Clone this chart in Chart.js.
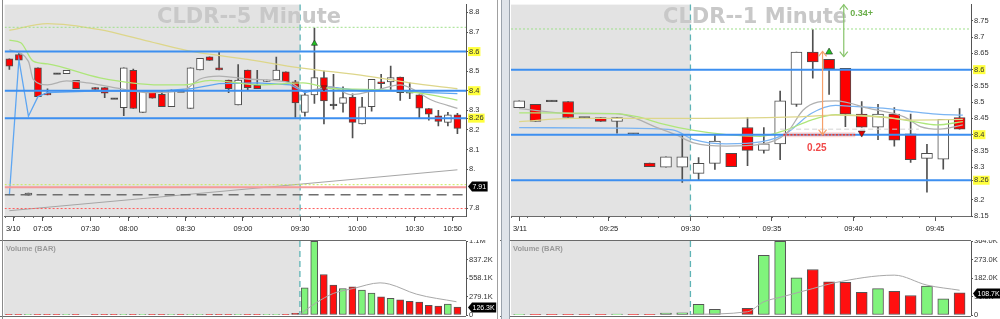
<!DOCTYPE html>
<html>
<head>
<meta charset="utf-8">
<script src="https://cdn.jsdelivr.net/npm/chart.js@4.4.1/dist/chart.umd.min.js"></script>
<style>
  html, body { margin:0; padding:0; background:#ffffff; }
  #wrap { position:relative; width:1000px; height:319px; overflow:hidden; background:#fff; }
  #wrap canvas { position:absolute; }
  .rule { position:absolute; }
</style>
</head>
<body>
<div id="wrap">
  <canvas id="lPrice" width="497" height="241" style="left:0;top:0"></canvas>
  <canvas id="lVol" width="497" height="79" style="left:0;top:240px"></canvas>
  <canvas id="rPrice" width="500" height="241" style="left:500px;top:0"></canvas>
  <canvas id="rVol" width="500" height="79" style="left:500px;top:240px"></canvas>
  <div class="rule" style="left:2px;top:0;width:1px;height:319px;background:#8a8a8a"></div>
  <div class="rule" style="left:497px;top:0;width:1px;height:319px;background:#a0a0a0"></div>
  <div class="rule" style="left:501px;top:0;width:7px;height:319px;background:#dfe4ea;border-left:1px solid #9aa3ad;border-right:1px solid #9aa3ad"></div>
</div>
<script>
// ================= LEFT PANEL : CLDR 5 minute =================
const leftTitle = 'CLDR--5 Minute';
const leftOpen  = [8.563,8.585,7.866,8.517,8.387,8.487,8.487,8.453,null,8.416,8.416,8.36,8.314,8.504,8.289,8.396,8.382,8.318,8.395,8.309,8.506,8.573,8.517,8.455,8.328,8.506,8.428,8.448,8.455,8.497,8.445,8.289,8.379,8.467,8.328,8.335,8.368,8.23,8.318,8.446,8.445,8.47,8.392,8.379,8.309,8.272,8.238,8.277];
const leftHigh  = [8.563,8.59,7.877,8.517,8.41,8.487,8.504,8.453,null,8.416,8.416,8.36,8.517,8.51,8.402,8.396,8.40,8.405,8.395,8.517,8.565,8.573,8.597,8.455,8.534,8.506,8.504,8.455,8.572,8.497,8.453,8.40,8.72,8.50,8.484,8.42,8.384,8.366,8.458,8.484,8.526,8.47,8.44,8.379,8.309,8.30,8.29,8.285];
const leftLow   = [8.509,8.556,7.866,8.369,8.379,8.487,8.487,8.411,null,8.407,8.365,8.36,8.272,8.309,8.289,8.362,8.318,8.318,8.395,8.309,8.506,8.555,8.506,8.39,8.328,8.405,8.411,8.448,8.455,8.446,8.264,8.27,8.335,8.23,8.306,8.29,8.159,8.23,8.295,8.41,8.405,8.35,8.36,8.26,8.25,8.22,8.22,8.18];
const leftClose = [8.526,8.556,7.877,8.369,8.379,8.487,8.504,8.411,null,8.407,8.387,8.36,8.517,8.309,8.402,8.362,8.318,8.402,8.395,8.517,8.565,8.555,8.506,8.411,8.455,8.416,8.411,8.455,8.506,8.446,8.338,8.379,8.467,8.348,8.328,8.365,8.238,8.318,8.458,8.436,8.467,8.39,8.392,8.311,8.28,8.243,8.277,8.208];
const leftVolumeK = [4,3,2,5,3,2,3,4,null,3,2,2,6,5,3,2,3,2,2,5,3,2,2,3,4,3,2,2,3,4,25,410,1110,611,450,400,425,375,330,275,250,230,205,195,145,135,165,120];
const leftVolumeAvgK = [[30.5,10],[32.1,175],[34,325],[36.1,400],[38.9,485],[39.9,465],[42.7,315],[46.9,200]];
const leftTimeTickPos = [0.4,3.5,8.5,12.5,18.5,24.5,30.5,36.5,42.5,46.5];
const leftTimeLabels  = ['3/10','07:05','07:30','08:00','08:30','09:00','09:30','10:00','10:30','10:50'];
const leftPriceTicks  = [8.8,8.7,8.6,8.5,8.4,8.3,8.26,8.2,8.1,8.0,7.8];
const leftPriceTickLabels = ['8.8','8.7','8.6','8.5','8.4','8.3','8.26','8.2','8.1','8.','7.8'];
const leftVolTicks = [0,279.1,558.1,837.2,1116.3];
const leftVolTickLabels = ['0','279.1K','558.1K','837.2K','1.1M'];
const leftLevels = [8.6,8.4,8.26];
const leftHighAlert = 8.724;
const leftLowAlert = 7.92;
const leftPrevClose = 7.907;
const leftDashedRef = 7.869;
const leftRedDotted = 7.798;
const leftSessionStart = 30.5;
const leftMaYellow = [[0,8.709],[4,8.743],[9.5,8.712],[14,8.66],[18.7,8.605],[25,8.56],[30.5,8.517],[37.5,8.475],[42,8.44],[47,8.41]];
const leftMaGreen  = [[0,8.658],[1.2,8.645],[2.5,8.551],[4,8.537],[9.5,8.466],[15.8,8.43],[18.3,8.43],[21.1,8.453],[26.3,8.43],[30.8,8.44],[34,8.41],[37.5,8.407],[42.7,8.39],[47,8.352]];
const leftMaGray   = [[0,8.61],[2,8.55],[2.5,8.458],[4,8.43],[6,8.45],[8.2,8.44],[10.6,8.42],[14.8,8.39],[18.2,8.40],[20,8.46],[22,8.475],[25,8.46],[29.5,8.44],[31,8.40],[33.8,8.42],[35.8,8.38],[39,8.41],[41,8.43],[44.4,8.35],[47,8.31]];
const leftMaBlue   = [[0,7.866],[1,8.56],[2,8.27],[3,8.37],[4,8.39],[9.5,8.40],[15,8.395],[19,8.41],[22,8.436],[26,8.44],[29.5,8.43],[31,8.39],[33.6,8.42],[36.8,8.40],[40,8.40],[44,8.39],[47,8.385]];
const leftTrend    = [[0,7.787],[47,7.996]];
const leftBuySignals  = [[32,8.641]];
const leftSellSignals = [[33,8.416]];
const leftPriceTag = [7.912,'7.91'];
const leftVolTag   = [126.3,'126.3K'];

// ================= RIGHT PANEL : CLDR 1 minute =================
const rightTitle = 'CLDR--1 Minute';
const rightOpen  = [8.483,8.493,8.504,8.502,8.453,8.453,8.441,8.403,8.313,8.30,8.30,8.281,8.312,8.343,8.422,8.352,8.372,8.493,8.654,8.632,8.604,8.463,8.423,8.463,8.403,8.327,8.325,8.453];
const rightHigh  = [8.504,8.493,8.504,8.502,8.453,8.453,8.453,8.403,8.313,8.332,8.40,8.33,8.40,8.343,8.453,8.422,8.534,8.654,8.723,8.632,8.604,8.502,8.493,8.483,8.463,8.37,8.447,8.48];
const rightLow   = [8.483,8.441,8.504,8.453,8.453,8.441,8.405,8.403,8.302,8.30,8.253,8.26,8.293,8.302,8.305,8.343,8.323,8.487,8.574,8.524,8.425,8.423,8.385,8.365,8.315,8.223,8.294,8.417];
const rightClose = [8.504,8.441,8.504,8.453,8.453,8.441,8.453,8.403,8.302,8.332,8.332,8.312,8.38,8.302,8.352,8.372,8.504,8.654,8.624,8.602,8.463,8.423,8.463,8.383,8.323,8.343,8.447,8.417];
const rightVolumeK = [2,1,1,1,1,2,4,1,3,10,11,52,28,null,33,293,362,183,224,163,161,111,130,117,96,142,80,108.7];
const rightVolumeAvgK = [[10.5,3],[14,16],[15,65],[16,87],[18,130],[19.3,158],[23,196],[25,147],[27,122]];
const rightTimeTickPos = [0.05,5.5,10.5,15.5,20.5,25.5];
const rightTimeLabels  = ['3/11','09:25','09:30','09:35','09:40','09:45'];
const rightPriceTicks  = [8.75,8.7,8.65,8.6,8.55,8.5,8.45,8.4,8.35,8.3,8.26,8.2,8.15];
const rightPriceTickLabels = ['8.75','8.7','8.65','8.6','8.55','8.5','8.45','8.4','8.35','8.3','8.26','8.2','8.15'];
const rightVolTicks = [0,91,182,273,364];
const rightVolTickLabels = ['0','91.0K','182.0K','273.0K','364.0K'];
const rightLevels = [8.6,8.4,8.26];
const rightHighAlert = 8.725;
const rightSessionStart = 10.5;
const rightMaBlue   = [[0,8.422],[6,8.42],[9.4,8.415],[10.7,8.385],[12.7,8.372],[14.8,8.378],[16.4,8.405],[17.9,8.465],[19.4,8.49],[20.5,8.487],[22.6,8.48],[24.2,8.47],[25.6,8.463],[27.2,8.46]];
const rightMaGray   = [[0,8.48],[3.3,8.465],[5.9,8.465],[6.9,8.455],[8.3,8.425],[9.6,8.40],[10.7,8.375],[12.7,8.365],[14.8,8.37],[16.4,8.405],[17.4,8.475],[18.3,8.5],[19.4,8.504],[21.5,8.48],[23.6,8.455],[24.6,8.425],[25.8,8.417],[27.2,8.43]];
const rightMaGreen  = [[0,8.467],[5.9,8.465],[7.3,8.455],[8.65,8.435],[10.7,8.413],[12.7,8.40],[14.8,8.395],[16.4,8.415],[17.9,8.445],[19.4,8.462],[20.5,8.46],[22.6,8.453],[24.2,8.44],[25.6,8.43],[27.2,8.44]];
const rightMaYellow = [[0,8.44],[3.3,8.45],[9.4,8.45],[17,8.455],[19.4,8.46],[22,8.455],[24.2,8.445],[27.2,8.447]];
const rightGrayDash = [[16,8.417],[24.5,8.417]];
const rightBuySignals  = [[19,8.654]];
const rightSellSignals = [[21,8.405]];
const rightEntryLine = [[16.2,8.40],[20.6,8.40]];
const rightRiskArrow = [18.6, 8.40, 8.656];      // x, from, to
const rightRiskText  = [18.25, 8.358, '0.25'];
const rightRewardArrow = [19.9, 8.64, 8.80];
const rightRewardText  = [20.3, 8.773, '0.34+'];
const rightVolTag = [108.7,'108.7K'];

// ================= rendering =================
const FONT = "'Liberation Sans', Arial, sans-serif";
const UP_FILL = '#ffffff', DOWN_FILL = '#ff0000', DOJI_FILL = '#3c3c3c', OUTLINE = '#4d4d4d';
const VOL_UP = '#80f47c', VOL_DOWN = '#ff1010';
const pts = pairs => pairs.map(([x, y]) => ({x, y}));

function lineDS(data, color, width, dash, order, smooth) {
  return {type:'line', data, borderColor:color, borderWidth:width, borderDash:dash || [], pointRadius:0,
          fill:false, order, cubicInterpolationMode: smooth ? 'monotone' : 'default', tension:0, spanGaps:true};
}
function markerDS(pairs, color, rotation, radius) {
  return {type:'line', data:pts(pairs), showLine:false, pointStyle:'triangle', pointRadius:radius,
          pointRotation:rotation, pointBackgroundColor:color, pointBorderColor:'#2a2a2a', pointBorderWidth:0.6, order:0};
}
function candleSets(o, h, l, c, bodyW, dojiHalf) {
  const wicks = [], bodies = [], fills = [];
  o.forEach((op, i) => {
    if (op == null) return;
    const cl = c[i];
    wicks.push({x:i, y:[l[i], h[i]]});
    let lo = Math.min(op, cl), hi = Math.max(op, cl);
    if (hi === lo) { lo -= dojiHalf; hi += dojiHalf; }
    bodies.push({x:i, y:[lo, hi]});
    fills.push(cl > op ? UP_FILL : (cl < op ? DOWN_FILL : DOJI_FILL));
  });
  return [
    {type:'bar', data:wicks, backgroundColor:'#505050', borderWidth:0, barThickness:1, grouped:false, order:6},
    {type:'bar', data:bodies, backgroundColor:fills, borderColor:OUTLINE, borderWidth:1, borderSkipped:false,
     barThickness:bodyW, grouped:false, order:5}
  ];
}
function drawTag(chart, value, text) {
  const {ctx, scales:{y}, chartArea:a} = chart;
  const py = Math.round(y.getPixelForValue(value)) + 0.5;
  ctx.save();
  ctx.font = '7px ' + FONT;
  const tw = ctx.measureText(text).width;
  const x0 = a.right + 2;
  ctx.fillStyle = '#000';
  ctx.beginPath();
  ctx.moveTo(x0, py); ctx.lineTo(x0 + 4, py - 5); ctx.lineTo(x0 + 6 + tw, py - 5);
  ctx.lineTo(x0 + 6 + tw, py + 5); ctx.lineTo(x0 + 4, py + 5); ctx.closePath(); ctx.fill();
  ctx.fillStyle = '#fff'; ctx.textBaseline = 'middle'; ctx.textAlign = 'left';
  ctx.fillText(text, x0 + 4.5, py + 0.5);
  ctx.restore();
}
function vArrow(ctx, x, yA, yB, color) {
  ctx.save();
  ctx.strokeStyle = color; ctx.lineWidth = 1.2;
  ctx.beginPath(); ctx.moveTo(x, yA); ctx.lineTo(x, yB); ctx.stroke();
  const top = Math.min(yA, yB), bot = Math.max(yA, yB);
  ctx.beginPath();
  ctx.moveTo(x - 4, top + 5); ctx.lineTo(x, top); ctx.lineTo(x + 4, top + 5);
  ctx.moveTo(x - 4, bot - 5); ctx.lineTo(x, bot); ctx.lineTo(x + 4, bot - 5);
  ctx.stroke();
  ctx.restore();
}

function panelPlugin(p, isPrice) {
  return {
    id: 'panel',
    beforeDraw(chart) {
      const {ctx, chartArea:a, scales:{x}} = chart;
      const sx = x.getPixelForValue(p.session);
      ctx.save();
      ctx.fillStyle = '#e3e3e3';
      ctx.fillRect(a.left, a.top, sx - a.left, a.bottom - a.top);
      ctx.fillStyle = '#ffffff';
      ctx.fillRect(sx, a.top, a.right - sx, a.bottom - a.top);
      ctx.restore();
    },
    beforeDatasetsDraw(chart) {
      const {ctx, chartArea:a, scales:{x}} = chart;
      const sx = x.getPixelForValue(p.session);
      ctx.save();
      ctx.strokeStyle = '#5fb4b6'; ctx.lineWidth = 1.3; ctx.setLineDash([6, 4]);
      ctx.beginPath(); ctx.moveTo(sx, a.top); ctx.lineTo(sx, a.bottom); ctx.stroke();
      ctx.setLineDash([]);
      if (isPrice) {
        ctx.fillStyle = '#c8c8c8';
        ctx.font = 'bold 21px "DejaVu Sans", sans-serif';
        ctx.textAlign = 'center'; ctx.textBaseline = 'alphabetic';
        ctx.fillText(p.title, p.titleX, 23);
      } else {
        ctx.fillStyle = '#9a9a9a';
        ctx.font = 'bold 7.5px ' + FONT;
        ctx.textAlign = 'left'; ctx.textBaseline = 'middle';
        ctx.fillText('Volume (BAR)', a.left + 2, a.top + 8);
      }
      ctx.restore();
    },
    afterDraw(chart) {
      const {ctx, chartArea:a, scales:{x}} = chart;
      ctx.save();
      ctx.strokeStyle = '#6a6a6a'; ctx.lineWidth = 1;
      if (isPrice) {
        for (let i = 0; i < p.n; i++) {
          const px = Math.round(x.getPixelForValue(i - 0.5)) + 0.5;
          ctx.beginPath(); ctx.moveTo(px, a.bottom); ctx.lineTo(px, a.bottom + 2); ctx.stroke();
        }
      } else {
        ctx.beginPath(); ctx.moveTo(0, a.top - 0.5); ctx.lineTo(a.right, a.top - 0.5); ctx.stroke();
        ctx.beginPath(); ctx.moveTo(0, a.bottom + 1.5); ctx.lineTo(a.right, a.bottom + 1.5); ctx.stroke();
      }
      ctx.restore();
      if (p.after) p.after(chart);
    }
  };
}

function xScale(p, display) {
  return {type:'linear', display, min:p.xMin, max:p.xMax, offset:false, bounds:'data',
    afterBuildTicks: s => { s.ticks = p.timeTicks.map(v => ({value:v})); },
    afterFit: s => { if (display) s.height = 25; s.paddingLeft = 0; s.paddingRight = 0; },
    ticks:{autoSkip:false, maxRotation:0, minRotation:0, padding:3, color:'#222',
           font:{family:FONT, size:7.5}, callback:(v, i) => p.timeLabels[i]},
    grid:{drawOnChartArea:false, drawTicks:true, tickLength:5, tickColor:'#555', offset:false},
    border:{display:true, color:'#6a6a6a'}};
}
function yScale(p, min, max, ticks, labels, hl) {
  return {type:'linear', position:'right', min, max, bounds:'data', beginAtZero:false,
    afterBuildTicks: s => { s.ticks = ticks.map(v => ({value:v})); },
    afterFit: s => { s.width = p.axisW; s.paddingTop = 0; s.paddingBottom = 0; },
    ticks:{autoSkip:false, padding:1, color:'#333', font:{family:FONT, size:7.5},
           callback:(v, i) => labels[i],
           showLabelBackdrop: c => !!(c.tick && hl.includes(c.tick.value)),
           backdropColor:'#ffff3c', backdropPadding:{left:1, right:1, top:0, bottom:0}},
    grid:{drawOnChartArea:false, drawTicks:true, tickLength:2, tickColor:'#555'},
    border:{display:true, color:'#555'}};
}

function buildPanel(p) {
  const span = v => [{x:p.xMin, y:v}, {x:p.xMax, y:v}];
  const ds = [];
  p.levels.forEach(v => ds.push(lineDS(span(v), '#3d8ff0', 2, [], 1)));
  p.extraLines.forEach(L => ds.push(lineDS(L.data, L.color, L.width, L.dash, L.order ?? 2, L.smooth)));
  p.markers.forEach(m => ds.push(m));
  ds.push(...candleSets(p.open, p.high, p.low, p.close, p.bodyW, p.dojiHalf));

  new Chart(document.getElementById(p.priceId), {
    type:'bar',
    data:{datasets:ds},
    options:{
      responsive:false, animation:false, devicePixelRatio:1,
      layout:{padding:{left:p.padLeft, top:3, right:0, bottom:0}},
      plugins:{legend:{display:false}, tooltip:{enabled:false}},
      scales:{x:xScale(p, true), y:yScale(p, p.yMin, p.yMax, p.priceTicks, p.priceTickLabels, p.levels)}
    },
    plugins:[panelPlugin({session:p.session, title:p.title, titleX:p.titleX, n:p.open.length, after:p.afterPrice}, true)]
  });

  const volData = [], volColors = [];
  p.vol.forEach((v, i) => {
    if (v == null) return;
    volData.push({x:i, y:v});
    volColors.push(p.close[i] > p.open[i] ? VOL_UP : VOL_DOWN);
  });
  new Chart(document.getElementById(p.volId), {
    type:'bar',
    data:{datasets:[
      lineDS(pts(p.volAvg), '#a8a8a8', 1, [], 1, true),
      {type:'bar', data:volData, backgroundColor:volColors, borderColor:'#555', borderWidth:1,
       borderSkipped:false, barThickness:p.volW, grouped:false, order:3}
    ]},
    options:{
      responsive:false, animation:false, devicePixelRatio:1,
      layout:{padding:{left:p.padLeft, top:1, right:0, bottom:4}},
      plugins:{legend:{display:false}, tooltip:{enabled:false}},
      scales:{x:xScale(p, false), y:yScale(p, 0, p.volMax, p.volTicks, p.volTickLabels, [])}
    },
    plugins:[panelPlugin({session:p.session, n:p.open.length, after:p.afterVol}, false)]
  });
}

buildPanel({
  priceId:'lPrice', volId:'lVol', title:leftTitle, titleX:249,
  open:leftOpen, high:leftHigh, low:leftLow, close:leftClose, vol:leftVolumeK, volAvg:leftVolumeAvgK,
  xMin:-0.5, xMax:47.9, yMin:7.76, yMax:8.84, volMax:leftVolTicks[leftVolTicks.length - 1],
  padLeft:4, axisW:31, bodyW:7, volW:7, dojiHalf:0.004,
  timeTicks:leftTimeTickPos, timeLabels:leftTimeLabels,
  priceTicks:leftPriceTicks, priceTickLabels:leftPriceTickLabels,
  volTicks:leftVolTicks, volTickLabels:leftVolTickLabels,
  levels:leftLevels, session:leftSessionStart,
  extraLines:[
    {data:[{x:-0.5,y:leftHighAlert},{x:47.9,y:leftHighAlert}], color:'#9fe08a', width:1, dash:[2,2]},
    {data:[{x:-0.5,y:leftLowAlert},{x:47.9,y:leftLowAlert}], color:'#c8ea5a', width:1, dash:[2,2]},
    {data:[{x:-0.5,y:leftPrevClose},{x:47.9,y:leftPrevClose}], color:'#f59a9a', width:2, dash:[]},
    {data:[{x:-0.5,y:leftDashedRef},{x:47.9,y:leftDashedRef}], color:'#6e6e6e', width:1.5, dash:[10,6]},
    {data:[{x:-0.5,y:leftRedDotted},{x:47.9,y:leftRedDotted}], color:'#ff5a5a', width:1, dash:[2,2]},
    {data:pts(leftTrend), color:'#a6a6a6', width:1, dash:[]},
    {data:pts(leftMaYellow), color:'#ddd68a', width:1.3, smooth:true},
    {data:pts(leftMaGreen), color:'#aee67a', width:1.3, smooth:true},
    {data:pts(leftMaGray), color:'#b0b0b0', width:1.3, smooth:true},
    {data:pts(leftMaBlue), color:'#5ea6f2', width:1.3, smooth:false}
  ],
  markers:[markerDS(leftBuySignals, '#22c322', 0, 3.5), markerDS(leftSellSignals, '#e00000', 180, 3.5)],
  afterPrice: chart => drawTag(chart, leftPriceTag[0], leftPriceTag[1]),
  afterVol: chart => drawTag(chart, leftVolTag[0], leftVolTag[1])
});

buildPanel({
  priceId:'rPrice', volId:'rVol', title:rightTitle, titleX:255,
  open:rightOpen, high:rightHigh, low:rightLow, close:rightClose, vol:rightVolumeK, volAvg:rightVolumeAvgK,
  xMin:-0.5, xMax:27.7, yMin:8.15, yMax:8.80, volMax:rightVolTicks[rightVolTicks.length - 1],
  padLeft:11, axisW:29, bodyW:11, volW:11, dojiHalf:0.0025,
  timeTicks:rightTimeTickPos, timeLabels:rightTimeLabels,
  priceTicks:rightPriceTicks, priceTickLabels:rightPriceTickLabels,
  volTicks:rightVolTicks, volTickLabels:rightVolTickLabels,
  levels:rightLevels, session:rightSessionStart,
  extraLines:[
    {data:[{x:-0.5,y:rightHighAlert},{x:27.7,y:rightHighAlert}], color:'#9fe08a', width:1, dash:[2,2]},
    {data:pts(rightGrayDash), color:'#d2d2d2', width:1, dash:[5,3]},
    {data:pts(rightMaYellow), color:'#ddd68a', width:1.3, smooth:true},
    {data:pts(rightMaGreen), color:'#aee67a', width:1.3, smooth:true},
    {data:pts(rightMaGray), color:'#b0b0b0', width:1.3, smooth:true},
    {data:pts(rightMaBlue), color:'#7ab4f2', width:1.3, smooth:true},
    {data:pts(rightEntryLine), color:'rgba(250,150,140,0.35)', width:5, dash:[], order:0.5},
    {data:pts(rightEntryLine), color:'#f03a2a', width:1.5, dash:[2,1.5], order:0.4}
  ],
  markers:[markerDS(rightBuySignals, '#22c322', 0, 4), markerDS(rightSellSignals, '#e00000', 180, 4)],
  afterPrice: chart => {
    const {ctx, scales:{x, y}} = chart;
    vArrow(ctx, x.getPixelForValue(rightRiskArrow[0]), y.getPixelForValue(rightRiskArrow[1]), y.getPixelForValue(rightRiskArrow[2]), '#f6a06a');
    vArrow(ctx, x.getPixelForValue(rightRewardArrow[0]), y.getPixelForValue(rightRewardArrow[1]), y.getPixelForValue(rightRewardArrow[2]), '#86c46a');
    ctx.save();
    ctx.textBaseline = 'middle';
    ctx.font = 'bold 10px ' + FONT; ctx.fillStyle = '#f04848'; ctx.textAlign = 'center';
    ctx.fillText(rightRiskText[2], x.getPixelForValue(rightRiskText[0]), y.getPixelForValue(rightRiskText[1]));
    ctx.font = 'bold 9px ' + FONT; ctx.fillStyle = '#6aae4a'; ctx.textAlign = 'left';
    ctx.fillText(rightRewardText[2], x.getPixelForValue(rightRewardText[0]), y.getPixelForValue(rightRewardText[1]));
    ctx.restore();
  },
  afterVol: chart => drawTag(chart, rightVolTag[0], rightVolTag[1])
});
</script>
</body>
</html>
